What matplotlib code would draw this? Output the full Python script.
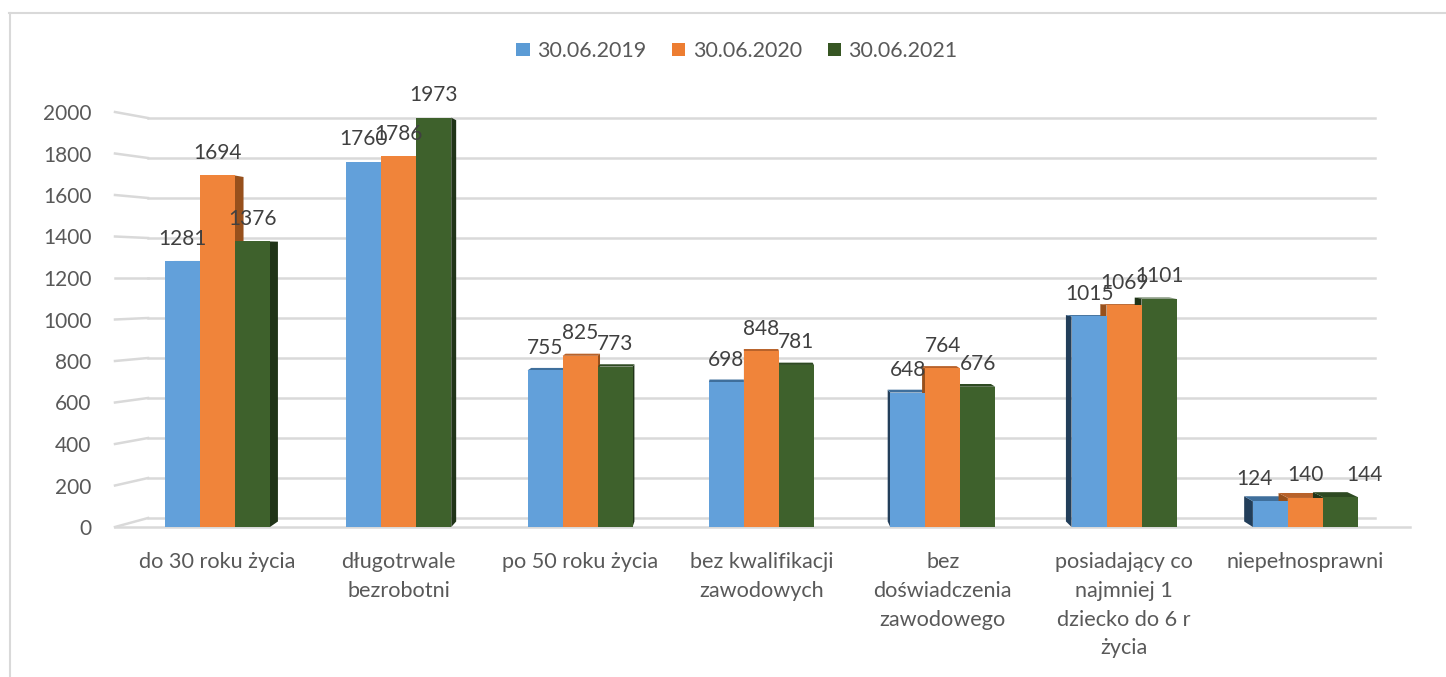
import matplotlib
matplotlib.use("Agg")
import matplotlib.pyplot as plt
from matplotlib.patches import Polygon, Patch
from matplotlib.lines import Line2D
import numpy as np

plt.rcParams['font.family'] = ['Lato', 'DejaVu Sans']

categories = ["do 30 roku życia", "długotrwale\nbezrobotni", "po 50 roku życia",
              "bez kwalifikacji\nzawodowych", "bez\ndoświadczenia\nzawodowego",
              "posiadający co\nnajmniej 1\ndziecko do 6 r\nżycia", "niepełnosprawni"]
series_names = ["30.06.2019", "30.06.2020", "30.06.2021"]
v2019 = [1281, 1760, 755, 698, 648, 1015, 124]
v2020 = [1694, 1786, 825, 848, 764, 1069, 140]
v2021 = [1376, 1973, 773, 781, 676, 1101, 144]
yticks = [0, 200, 400, 600, 800, 1000, 1200, 1400, 1600, 1800, 2000]

front_cols = ["#62A0DA", "#F0843A", "#3E612C"]
side_cols = ["#223E5A", "#97501C", "#203418"]
top_cols = ["#3F6F9C", "#B8622A", "#2E4A22"]
legend_cols = ["#5B9BD5", "#ED7D31", "#375623"]

W, H = 1446, 677
fig = plt.figure(figsize=(W / 100, H / 100), dpi=100)
ax = fig.add_axes([115 / W, (H - 527) / H, 1295 / W, 415 / H])
ax.set_xlim(-0.565, 6.577)
ax.set_ylim(0, 2000)
for s in ax.spines.values():
    s.set_visible(False)

# frame around the chart
fig.add_artist(Line2D([9.5 / W, 9.5 / W], [0, (H - 13) / H], color="#d9d9d9", lw=1.5))
fig.add_artist(Line2D([9 / W, 1], [(H - 13) / H, (H - 13) / H], color="#d9d9d9", lw=1.5))

# gridlines (3D wall look)
grid_c = "#d9d9d9"
def back_val(v):
    return (527 - (518 - 0.2 * v)) / 0.2075
xb0 = (148 - 115) / 1295
xb1 = (1375 - 115) / 1295
tr = ax.get_yaxis_transform()
for v in yticks:
    vb = back_val(v)
    ax.plot([0, xb0], [v, vb], color=grid_c, lw=1.8, transform=tr, clip_on=False, zorder=0)
    ax.plot([xb0, xb1], [vb, vb], color=grid_c, lw=1.8, transform=tr, clip_on=False, zorder=0)
ax.plot([0, 1], [0, 0], color=grid_c, lw=1.8, transform=tr, clip_on=False, zorder=0)

ax.set_yticks(yticks)
ax.set_yticklabels([str(v) for v in yticks])
ax.tick_params(axis="y", length=0, pad=17, labelsize=15, labelcolor="#595959")
x = np.arange(len(categories))
ax.set_xticks(x)
ax.set_xticklabels(categories, linespacing=1.55)
ax.tick_params(axis="x", length=0, pad=18, labelsize=15.6, labelcolor="#595959")

bw = 0.193
offsets = [-bw, 0, bw]
series = [v2019, v2020, v2021]

# perspective parameters (in pixels, image coords y-down)
kx, vx = 0.017, 740.0
ky, vy = 0.02, 250.0
inv = ax.transData.inverted()

def to_img(px, py):
    d = ax.transData.transform((px, py))
    return d[0], H - d[1]

def from_img(ix, iy):
    return inv.transform((ix, H - iy))

def back(ix, iy):
    return ix + kx * (vx - ix), iy + ky * (vy - iy)

# faces first
for si, vals in enumerate(series):
    for gi, val in enumerate(vals):
        xl = gi + offsets[si] - bw / 2
        xr = gi + offsets[si] + bw / 2
        lx, by = to_img(xl, 0)
        rx, ty = to_img(xr, val)
        cx = (lx + rx) / 2
        ex = rx if cx < vx else lx
        fb, ft = (ex, by), (ex, ty)
        bb, bt = back(*fb), back(*ft)
        poly = [from_img(*p) for p in (fb, ft, bt, bb)]
        ax.add_patch(Polygon(poly, closed=True, facecolor=side_cols[si], edgecolor="none", zorder=2))
        if ty > vy:
            p1, p2 = (lx, ty), (rx, ty)
            poly = [from_img(*p) for p in (p1, p2, back(*p2), back(*p1))]
            ax.add_patch(Polygon(poly, closed=True, facecolor=top_cols[si], edgecolor="none", zorder=2))

# small horizontal nudges (points) for the crowded last group's labels
label_nudge = {6: [-11.5, 0, 17]}

for si, vals in enumerate(series):
    ax.bar(x + offsets[si], vals, width=bw, color=front_cols[si], zorder=3)
    for gi, val in enumerate(vals):
        dx = label_nudge.get(gi, [0, 0, 0])[si]
        ax.annotate(str(val), (gi + offsets[si], val), xytext=(dx, 9), textcoords="offset points",
                    ha="center", va="bottom", fontsize=15, color="#404040", zorder=5)

handles = [Patch(facecolor=c, edgecolor="none") for c in legend_cols]
fig.legend(handles, series_names, loc="center", bbox_to_anchor=(737 / W, (H - 51) / H), ncol=3,
           frameon=False, fontsize=15.4, labelcolor="#595959", handlelength=0.62, handleheight=0.62,
           handletextpad=0.35, columnspacing=1.2)

fig.savefig("out.png", dpi=100)
